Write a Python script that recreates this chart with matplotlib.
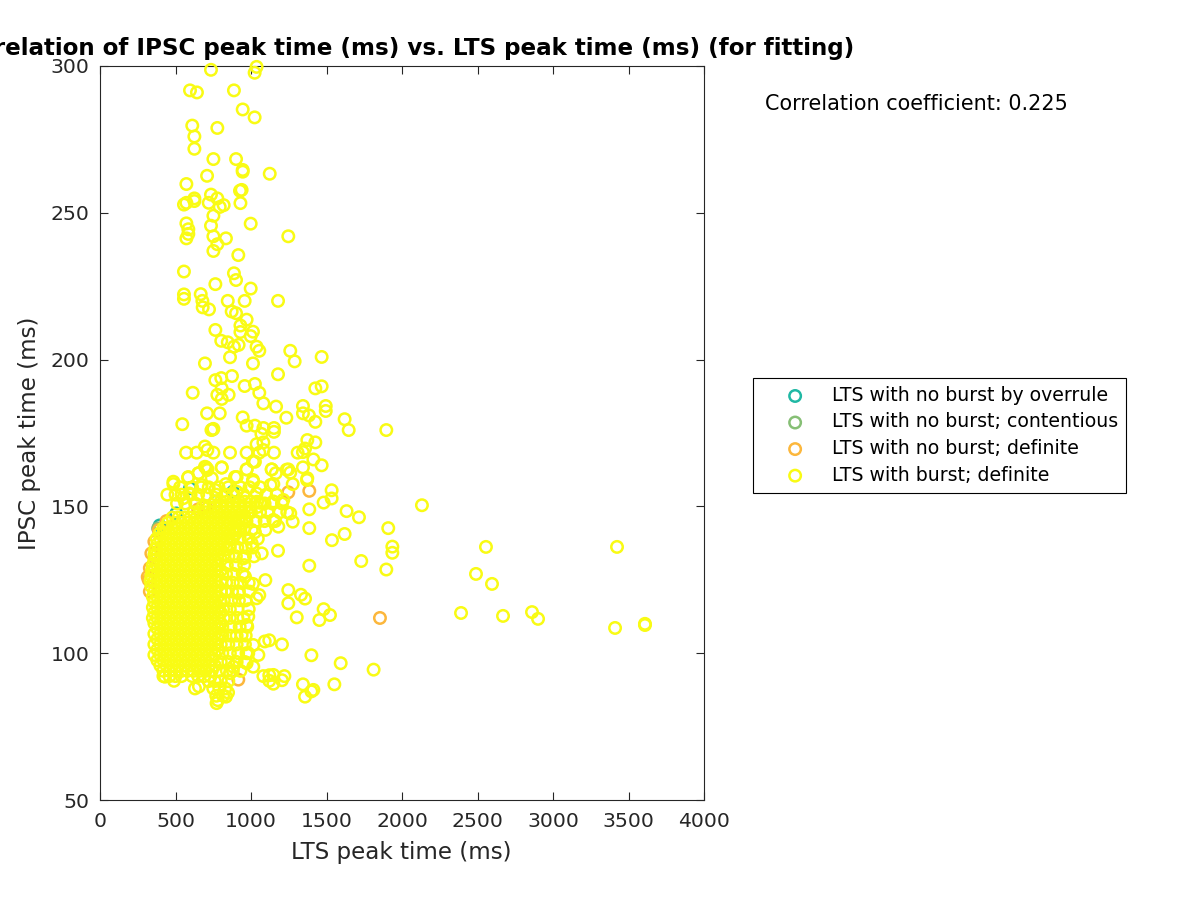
import matplotlib
matplotlib.use("Agg")
import matplotlib.pyplot as plt

title_text = "Correlation of IPSC peak time (ms) vs. LTS peak time (ms) (for fitting)"
x_label = "LTS peak time (ms)"
y_label = "IPSC peak time (ms)"
note_text = "Correlation coefficient: 0.225"
series_names = ["LTS with no burst by overrule", "LTS with no burst; contentious",
                "LTS with no burst; definite", "LTS with burst; definite"]
series_colors = ["#20b8a4", "#86bf75", "#fcb73c", "#f9fb14"]
x_ticks = [0, 500, 1000, 1500, 2000, 2500, 3000, 3500, 4000]
y_ticks = [50, 100, 150, 200, 250, 300]

overrule_x = [395, 505, 596, 881, 762]
overrule_y = [143.5, 147.6, 156.2, 155, 151.6]
contentious_x = [745, 385]
contentious_y = [176.2, 142.5]
nonburst_x = [1386, 1247, 1854, 916, 322, 330, 340, 360, 390, 440, 330, 316, 700, 650]
nonburst_y = [155.3, 154.8, 112, 91, 125, 129, 134, 138, 142, 145, 121, 126, 150, 149]

sparse_x = [735, 1037, 1024, 596, 642, 887, 945, 1024, 611, 777, 625, 625, 751, 901, 945, 945, 1124, 709, 572, 938,
            927, 735, 625, 625, 777, 572, 556, 720, 930, 819, 793, 751, 572, 735, 998, 585, 585, 572, 751, 834,
            1247, 777, 751, 916, 556, 887, 901, 764, 998, 556, 556, 667, 678, 846, 958, 1179, 680, 722, 872, 901,
            971, 930, 764, 930, 1013, 998, 803, 846, 918, 887, 1037, 1055, 1260, 1289, 1468, 861, 695, 1013, 1179, 874,
            764, 803, 958, 1026, 1426, 1468, 614, 1055, 806, 777, 852, 806, 1082, 1166, 709, 793, 945, 1234, 1344, 1344,
            1384, 1495, 1495, 1620, 1647, 1896, 1426, 545, 751, 738, 971, 1026, 1082, 1152, 1152, 1069, 1373, 1426, 1037, 1082,
            695, 711, 570, 640, 751, 861, 971, 1152, 1055, 1082, 1309, 1344, 1358, 1413, 1468, 1344, 1013, 971, 806, 695,
            711, 651, 1137, 1164, 1247, 1260, 585, 905, 1373, 486, 1013, 2132, 2556, 2490, 2596, 2391, 2669, 2861, 2901, 3424,
            3411, 3609, 3609, 1534, 1534, 1481, 1633, 1715, 1909, 1936, 1936, 1620, 1536, 1730, 1896, 1386, 1386, 1386, 1276, 1276,
            1260, 1371, 1236, 1179, 1095, 1013, 1247, 1331, 1358, 1247, 1481, 1523, 1453, 1303, 1205, 1121, 1091, 1400, 1594, 1812,
            1552, 1344, 1413, 1400, 1358, 1221, 1205, 1148, 1121, 1082, 1148, 1121, 772, 780, 848, 834, 629, 655, 490, 430,
            446, 486, 583, 702, 711, 806, 971, 1026, 1137, 654, 740, 834, 894, 1015, 1148, 552, 592, 673, 762, 905,
            1037, 1130, 1214, 1148, 1060, 1148, 1181, 1026, 927, 1005, 1071, 949, 960, 916, 1055, 1037, 982, 971, 938, 1015,
            1049, 982, 1015, 971, 883, 861]
sparse_y = [298.7, 299.7, 297.7, 291.7, 291, 291.7, 285.2, 282.5, 279.7, 278.9, 276, 271.8, 268.3, 268.3, 264.6, 264, 263.3, 262.6, 259.8, 257.8,
            257.5, 256.2, 254.9, 254, 254.9, 253.4, 252.8, 253.4, 253.3, 252.6, 252, 249, 246.4, 245.6, 246.3, 244.4, 242.8, 241.3, 242, 241.3,
            242, 239.3, 237, 235.6, 230, 229.4, 227.1, 225.7, 224.2, 222.2, 220.7, 222.3, 220, 220, 220, 220, 217.8, 217.1, 216.4, 215.8,
            213.6, 211.6, 210.1, 209.4, 209.5, 208, 206.4, 205.9, 205, 204.4, 204.4, 203, 203, 199.4, 200.9, 200.8, 198.7, 198.7, 195, 194.4,
            193, 193.7, 191, 191.7, 190.2, 190.9, 188.7, 188.7, 190.2, 188, 188, 186.6, 185.1, 184, 181.7, 181.7, 180.3, 180.2, 184.2, 181.7,
            181, 184.2, 182.5, 179.7, 176, 176, 178.8, 178, 176.4, 176, 177.5, 177.5, 176.7, 176.7, 175.4, 174.7, 172.6, 171.8, 171.2, 171.8,
            170.4, 169.2, 168.3, 168.3, 168.3, 168.3, 168.3, 168.3, 168.3, 169.2, 168.3, 168.5, 169.7, 166, 164, 163.3, 165.3, 162.6, 163.2, 163.5,
            162.7, 161.3, 162.6, 161.3, 162.6, 161.5, 160, 160, 159.6, 158.4, 159, 150.4, 136.2, 127, 123.6, 113.7, 112.7, 114, 111.7, 136.2,
            108.6, 110, 109.6, 155.5, 152.7, 151.3, 148.4, 146.3, 142.6, 136.3, 134.2, 140.6, 138.5, 131.4, 128.5, 129.8, 149, 142.6, 157.6, 144.8,
            147.6, 159, 162.5, 134.9, 124.9, 123.6, 121.5, 119.9, 118.6, 117, 115, 113, 111.3, 112.2, 103, 104.4, 104, 99.3, 96.6, 94.4,
            89.4, 89.4, 87.5, 87, 85.2, 92.2, 90.8, 92.6, 92.5, 92.2, 89.6, 90.6, 83, 84, 86.6, 85.2, 88, 88.7, 90.6, 92,
            154, 157.6, 159.8, 163.3, 162.4, 163.3, 162.6, 165.2, 162.6, 161.3, 159.6, 157.6, 160, 158.4, 157.6, 152.8, 154.4, 157.3, 155.6, 155,
            154.4, 157.3, 152.2, 151.7, 151.2, 145.4, 143.1, 141.2, 142, 137.4, 134, 132.3, 126.1, 120.4, 119.8, 118.7, 112.5, 109.6, 106.2, 102.8,
            99.4, 100, 95.4, 96.6, 95.4, 93.2]

# Fringe of the dense part, read row by row
fringe_row_y = [85.5, 88, 90.5, 94, 97, 100, 103, 106, 109, 112, 115, 118, 121, 124, 127, 130, 133, 136, 139, 142, 145, 148, 151, 154, 156.5]
fringe_row_x = [
    [770, 815],
    [750, 790, 830],
    [720, 760, 800, 850],
    [790, 840, 880, 930],
    [800, 850, 905, 960],
    [810, 860, 915, 970],
    [800, 850, 905, 960],
    [810, 860, 905, 965],
    [810, 865, 925, 975],
    [820, 860, 910, 950],
    [815, 860, 910, 985],
    [820, 870, 920, 965],
    [830, 875, 920, 990],
    [835, 880, 930, 985],
    [835, 885, 945],
    [840, 900, 955],
    [850, 900, 960, 1020],
    [860, 910, 965, 1010],
    [875, 925, 985, 1045],
    [900, 955, 1005, 1095],
    [920, 970, 1030, 1090, 1160],
    [1000, 1060, 1110, 1190, 1240],
    [510, 565, 630, 1090, 1140, 1205],
    [500, 540, 600, 650, 710, 770, 830, 880, 950, 1100, 1170],
    [530, 610, 670, 720, 785, 850, 930, 990, 1060],
]

# Solid core of the burst series, read row by row
core_row_y = [92.2, 94.0, 95.8, 97.6, 99.4, 101.2, 103.0, 104.8, 106.6, 108.4, 110.2,
              112.0, 113.8, 115.6, 117.4, 119.2, 121.0, 122.8, 124.6, 126.4, 128.2,
              130.0, 131.8, 133.6, 135.4, 137.2, 139.0, 140.8, 142.6, 144.4, 146.2, 148.0, 149.8, 151.6]
core_row_x = [
    [420, 460, 500, 540, 610, 650, 690, 730],
    [420, 460, 500, 540, 580, 620, 660, 700, 740],
    [400, 440, 480, 520, 560, 600, 640, 680, 720, 760],
    [380, 420, 460, 500, 540, 580, 620, 660, 700, 740],
    [360, 400, 440, 480, 520, 560, 600, 640, 680, 720, 760],
    [380, 420, 460, 500, 540, 580, 620, 660, 700, 740, 780],
    [360, 400, 440, 480, 520, 560, 600, 640, 680, 720, 760],
    [380, 420, 460, 500, 540, 580, 620, 660, 700, 740, 780],
    [360, 400, 440, 480, 520, 560, 600, 640, 680, 720, 760, 800],
    [380, 420, 460, 500, 540, 580, 620, 660, 700, 740, 780],
    [360, 400, 440, 480, 520, 560, 600, 640, 680, 720, 760, 800],
    [350, 380, 420, 460, 500, 540, 580, 620, 660, 700, 740, 780],
    [360, 400, 440, 480, 520, 560, 600, 640, 680, 720, 760, 800],
    [350, 380, 420, 460, 500, 540, 580, 620, 660, 700, 740, 780],
    [360, 400, 440, 480, 520, 560, 600, 640, 680, 720, 760, 800],
    [350, 380, 420, 460, 500, 540, 580, 620, 660, 700, 740, 780],
    [360, 400, 440, 480, 520, 560, 600, 640, 680, 720, 760, 800],
    [340, 380, 420, 460, 500, 540, 580, 620, 660, 700, 740, 780],
    [335, 360, 400, 440, 480, 520, 560, 600, 640, 680, 720, 760, 800],
    [340, 380, 420, 460, 500, 540, 580, 620, 660, 700, 740, 780],
    [345, 360, 400, 440, 480, 520, 560, 600, 640, 680, 720, 760, 800],
    [350, 380, 420, 460, 500, 540, 580, 620, 660, 700, 740, 780],
    [360, 400, 440, 480, 520, 560, 600, 640, 680, 720, 760, 800],
    [360, 380, 420, 460, 500, 540, 580, 620, 660, 700, 740, 780, 820],
    [365, 400, 440, 480, 520, 560, 600, 640, 680, 720, 760, 800, 840],
    [380, 420, 460, 500, 540, 580, 620, 660, 700, 740, 780, 820, 860],
    [375, 400, 440, 480, 520, 560, 600, 640, 680, 720, 760, 800, 840, 880],
    [395, 420, 460, 500, 540, 580, 620, 660, 700, 740, 780, 820, 860, 900],
    [420, 440, 480, 520, 560, 600, 640, 680, 720, 760, 800, 840, 880, 920],
    [450, 500, 540, 580, 620, 660, 700, 740, 780, 820, 860, 900, 940],
    [480, 520, 560, 600, 640, 680, 720, 760, 800, 840, 880, 920, 960],
    [620, 660, 700, 740, 780, 820, 860, 900, 940, 980],
    [680, 720, 760, 800, 840, 880, 920, 960, 1000, 1040],
    [760, 800, 840, 880, 920, 960, 1000, 1040],
]

fig = plt.figure(figsize=(12, 9), dpi=100, facecolor="white")
ax = fig.add_axes([100 / 1200, 1 - 800 / 900, 604 / 1200, 734 / 900])

marker_style = dict(s=68, facecolors="none", linewidths=1.8, clip_on=False)
ax.scatter(overrule_x, overrule_y, edgecolors=series_colors[0], label=series_names[0], zorder=3, **marker_style)
ax.scatter(contentious_x, contentious_y, edgecolors=series_colors[1], label=series_names[1], zorder=4, **marker_style)
ax.scatter(nonburst_x, nonburst_y, edgecolors=series_colors[2], label=series_names[2], zorder=5, **marker_style)
burst_x = list(sparse_x)
burst_y = list(sparse_y)
for row_y, row_x in list(zip(fringe_row_y, fringe_row_x)) + list(zip(core_row_y, core_row_x)):
    burst_x.extend(row_x)
    burst_y.extend([row_y] * len(row_x))
ax.scatter(burst_x, burst_y, edgecolors=series_colors[3], label=series_names[3], zorder=6, **marker_style)

ax.set_xlim(0, 4000)
ax.set_ylim(50, 300)
ax.set_xticks(x_ticks)
ax.set_yticks(y_ticks)
dark = "#262626"
ax.tick_params(direction="in", top=True, right=True, length=6, width=0.8, color=dark,
               labelcolor=dark, labelsize=14.7)
ax.tick_params(axis="x", pad=8.5)
ax.tick_params(axis="y", pad=7.5)
for spine in ax.spines.values():
    spine.set_linewidth(0.8)
    spine.set_color(dark)
    spine.set_zorder(2)
ax.set_xlabel(x_label, fontsize=16.6, color=dark)
ax.set_ylabel(y_label, fontsize=16.6, color=dark)
ax.xaxis.set_label_coords(401 / 1200, 1 - 852 / 900, transform=fig.transFigure)
ax.yaxis.set_label_coords(30 / 1200, 1 - 433 / 900, transform=fig.transFigure)
ax.xaxis.label.set_va("center")
ax.yaxis.label.set_va("center")

fig.text(402 / 1200, 1 - 48 / 900, title_text, fontsize=16.55, fontweight="bold", color="black",
         ha="center", va="center")
fig.text(765 / 1200, 1 - 104 / 900, note_text, fontsize=14.97, color="black", ha="left", va="center")

leg = ax.legend(loc="upper left", bbox_to_anchor=(753 / 1200, 1 - 378 / 900),
                bbox_transform=fig.transFigure, borderaxespad=0, frameon=True, fancybox=False,
                framealpha=1, edgecolor="black", fontsize=13.6, scatterpoints=1,
                handlelength=3.62, handletextpad=0.14, labelspacing=0.4, borderpad=0.42)
leg.get_frame().set_linewidth(0.8)
leg.set_zorder(10)
for text in leg.get_texts():
    text.set_color("black")

fig.savefig("out.png", dpi=100)
